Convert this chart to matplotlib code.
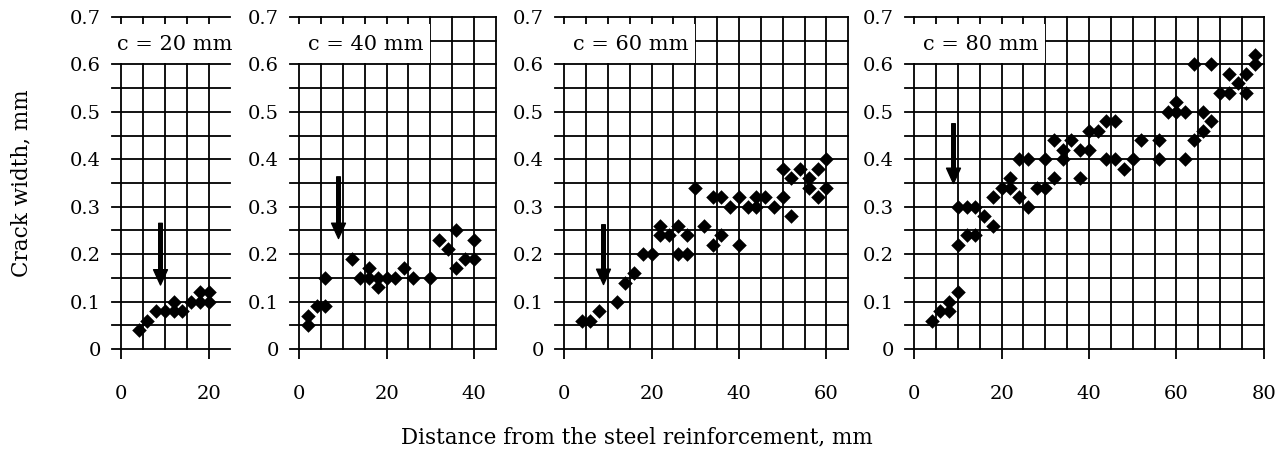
import numpy as np
import matplotlib
matplotlib.use("Agg")
import matplotlib.pyplot as plt
from matplotlib.patches import Rectangle

plt.rcParams['font.family'] = ['DejaVu Serif']

# crack width data (distance in mm, width in mm)
x20 = [4, 6, 8, 10, 12, 12, 14, 16, 18, 18, 20, 20]
y20 = [0.04, 0.06, 0.08, 0.08, 0.10, 0.08, 0.08, 0.10, 0.12, 0.10, 0.12, 0.10]

x40 = [2, 2, 4, 6, 6, 12, 14, 16, 16, 18, 18, 20, 22, 24, 26, 30, 32, 34, 36, 36, 38, 40, 40]
y40 = [0.05, 0.07, 0.09, 0.09, 0.15, 0.19, 0.15, 0.17, 0.15, 0.13, 0.15, 0.15, 0.15, 0.17,
       0.15, 0.15, 0.23, 0.21, 0.25, 0.17, 0.19, 0.23, 0.19]

x60 = [4, 6, 8, 12, 14, 16, 18, 20, 22, 22, 24, 26, 26, 28, 28, 30, 32, 34, 34, 36,
       36, 38, 40, 40, 42, 44, 44, 46, 48, 50, 50, 52, 52, 54, 56, 56, 58, 58, 60, 60]
y60 = [0.06, 0.06, 0.08, 0.10, 0.14, 0.16, 0.20, 0.20, 0.26, 0.24, 0.24, 0.26, 0.20, 0.24,
       0.20, 0.34, 0.26, 0.32, 0.22, 0.32, 0.24, 0.30, 0.32, 0.22, 0.30, 0.32, 0.30, 0.32,
       0.30, 0.32, 0.38, 0.36, 0.28, 0.38, 0.36, 0.34, 0.38, 0.32, 0.40, 0.34]

x80 = [4, 6, 8, 8, 10, 10, 10, 12, 12, 14, 14, 16, 18, 18, 20, 22, 22, 24, 24, 26,
       26, 28, 30, 30, 32, 32, 34, 34, 36, 38, 38, 40, 40, 42, 44, 44, 46, 46, 48, 50,
       52, 56, 56, 58, 60, 60, 62, 62, 64, 64, 66, 66, 68, 68, 70, 72, 72, 74, 76, 76,
       78, 78]
y80 = [0.06, 0.08, 0.08, 0.10, 0.12, 0.22, 0.30, 0.30, 0.24, 0.30, 0.24, 0.28, 0.26, 0.32,
       0.34, 0.34, 0.36, 0.32, 0.40, 0.40, 0.30, 0.34, 0.34, 0.40, 0.36, 0.44, 0.42, 0.40,
       0.44, 0.42, 0.36, 0.42, 0.46, 0.46, 0.48, 0.40, 0.48, 0.40, 0.38, 0.40, 0.44, 0.44,
       0.40, 0.50, 0.52, 0.50, 0.50, 0.40, 0.60, 0.44, 0.50, 0.46, 0.60, 0.48, 0.54, 0.54,
       0.58, 0.56, 0.58, 0.54, 0.62, 0.60]

covers = ["c = 20 mm", "c = 40 mm", "c = 60 mm", "c = 80 mm"]
xmax_list = [24.9, 45, 65, 80]
xticks_list = [[0, 20], [0, 20, 40], [0, 20, 40, 60], [0, 20, 40, 60, 80]]

# arrows (position of the reinforcement edge)
arrow_x = [9, 9, 9, 9]
arrow_top = [0.265, 0.363, 0.262, 0.475]
arrow_tip = [0.135, 0.233, 0.136, 0.349]

xs = [x20, x40, x60, x80]
ys = [y20, y40, y60, y80]

W, H = 1277, 454
fig = plt.figure(figsize=(W / 100, H / 100), dpi=100)

xmin = -2.1
px_per_mm = 4.37
lefts = [112, 290, 555, 905]  # pixel left edge of each panel
y_bot, y_top = 349, 17
lw = 1.3

axes = []
for i in range(4):
    width_px = (xmax_list[i] - xmin) * px_per_mm
    ax = fig.add_axes([lefts[i] / W, 1 - y_bot / H, width_px / W, (y_bot - y_top) / H])
    ax.set_xlim(xmin, xmax_list[i])
    ax.set_ylim(0, 0.7)
    for s in ax.spines.values():
        s.set_visible(False)

    # grid drawn by hand so the edge lines are not clipped
    for v in np.arange(0, xmax_list[i] + 0.01, 5):
        ax.axvline(v, color='black', lw=lw, zorder=1, clip_on=False)
    for h in np.arange(0, 0.701, 0.05):
        ax.axhline(h, color='black', lw=lw, zorder=1, clip_on=False)

    ax.scatter(xs[i], ys[i], marker='D', s=55, color='black', linewidths=0, zorder=4)

    ax.annotate('', xy=(arrow_x[i], arrow_tip[i]), xytext=(arrow_x[i], arrow_top[i]),
                arrowprops=dict(facecolor='black', edgecolor='black', width=2.6,
                                headwidth=10, headlength=11, shrink=0), zorder=5)

    ax.set_xticks(xticks_list[i])
    ax.set_yticks(np.arange(0, 0.71, 0.1))
    ax.set_yticklabels(['0', '0.1', '0.2', '0.3', '0.4', '0.5', '0.6', '0.7'])
    ax.tick_params(axis='y', length=0, pad=8, labelsize=14)
    ax.tick_params(axis='x', length=7, width=lw, direction='out', pad=19, labelsize=14)

    txt = ax.text(-1.0 if i == 0 else 2.0, 0.643, covers[i], fontsize=15,
                  ha='left', va='center', zorder=3, clip_on=False)
    axes.append((ax, txt))

fig.text(0.017, 1 - (y_bot + y_top) / 2 / H, 'Crack width, mm', rotation=90,
         ha='center', va='center', fontsize=15.5)
fig.text(0.499, 0.037, 'Distance from the steel reinforcement, mm',
         ha='center', va='center', fontsize=15.5)

# white box behind the cover labels
fig.canvas.draw()
r = fig.canvas.get_renderer()
for ax, txt in axes:
    bb = txt.get_window_extent(r)
    x_right = ax.transData.inverted().transform((bb.x1 + 7, 0))[0]
    x_left = ax.get_xlim()[0] - 0.5
    ax.add_patch(Rectangle((x_left, 0.604), x_right - x_left, 0.082, facecolor='white',
                           edgecolor='none', zorder=2, clip_on=False))

fig.savefig('out.png', dpi=100)
